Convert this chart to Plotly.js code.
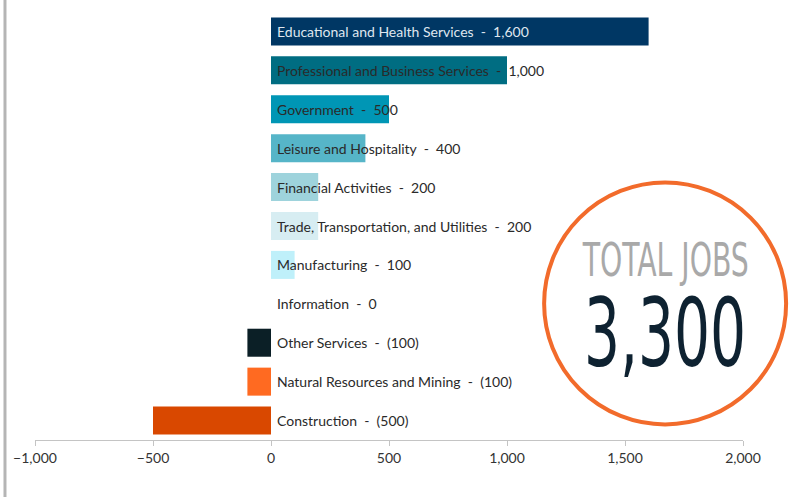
<!DOCTYPE html>
<html>
<head>
<meta charset="utf-8">
<script src="https://cdn.plot.ly/plotly-3.0.1.min.js"></script>
<style>
  html, body { margin: 0; padding: 0; background: #fff; }
  #chart { width: 810px; height: 497px; }
</style>
</head>
<body>
<div id="chart"></div>
<script>
// Job change by industry
const industries = [
  'Educational and Health Services',
  'Professional and Business Services',
  'Government',
  'Leisure and Hospitality',
  'Financial Activities',
  'Trade, Transportation, and Utilities',
  'Manufacturing',
  'Information',
  'Other Services',
  'Natural Resources and Mining',
  'Construction'
];
const jobChange = [1600, 1000, 500, 400, 200, 200, 100, 0, -100, -100, -500];
const barColors = [
  '#003764', '#006d82', '#0096b5', '#56b5c8', '#9ed3dc', '#d7edf2',
  '#bff0fa', '#ffffff', '#0b1f26', '#ff6a21', '#d94800'
];
const totalLabel = 'TOTAL JOBS';
const totalJobs = '3,300';

// "1,600" for gains, "(100)" for losses
const fmt = v => v < 0 ? '(' + Math.abs(v).toLocaleString('en-US') + ')' : v.toLocaleString('en-US');

const labelAnnotations = industries.map((name, i) => ({
  x: 0,
  y: name,
  xref: 'x',
  yref: 'y',
  text: name + '&nbsp;&nbsp;-&nbsp;&nbsp;' + fmt(jobChange[i]),
  showarrow: false,
  xanchor: 'left',
  xshift: 4,
  font: { family: 'Lato, "Open Sans", sans-serif', size: 14, color: i === 0 ? '#dfe6ef' : '#2a2a2a' }
}));

const trace = {
  type: 'bar',
  orientation: 'h',
  x: jobChange,
  y: industries,
  marker: { color: barColors },
  hoverinfo: 'x+y'
};

const bigFont = '"Liberation Sans Narrow", "DejaVu Sans Condensed", sans-serif';

const layout = {
  width: 810,
  height: 497,
  margin: { l: 35, r: 67, t: 12, b: 57 },
  paper_bgcolor: '#fff',
  plot_bgcolor: '#fff',
  showlegend: false,
  bargap: 0.28,
  xaxis: {
    range: [-1000, 2000],
    dtick: 500,
    tickformat: ',',
    showgrid: false,
    zeroline: false,
    showline: true,
    linecolor: '#c4c4c4',
    linewidth: 1,
    ticks: 'outside',
    ticklen: 5,
    tickcolor: '#c4c4c4',
    tickfont: { family: 'Lato, "Open Sans", sans-serif', size: 14, color: '#333' }
  },
  yaxis: {
    autorange: 'reversed',
    showticklabels: false,
    showgrid: false,
    zeroline: false,
    showline: false,
    ticks: ''
  },
  shapes: [
    // frame line on the left
    { type: 'line', xref: 'paper', yref: 'paper', x0: -0.0424, x1: -0.0424, y0: -0.14, y1: 1.04,
      line: { color: '#b5b5b5', width: 3 } },
    // total jobs ring
    { type: 'circle', xref: 'paper', yref: 'paper', xsizemode: 'pixel', ysizemode: 'pixel',
      xanchor: 0.89, yanchor: 0.319, x0: -121, x1: 121, y0: -121, y1: 121,
      line: { color: '#f26b2b', width: 4 }, fillcolor: 'rgba(255,255,255,0)' }
  ],
  annotations: labelAnnotations.concat([
    { xref: 'paper', yref: 'paper', x: 0.89, y: 0.421, xanchor: 'center', yanchor: 'middle',
      text: totalLabel, showarrow: false,
      font: { family: bigFont, size: 47, color: '#a9a9a9' } },
    { xref: 'paper', yref: 'paper', x: 0.89, y: 0.25, xanchor: 'center', yanchor: 'middle',
      text: totalJobs, showarrow: false,
      font: { family: bigFont, size: 94, color: '#0e2231' } }
  ])
};

Plotly.newPlot('chart', [trace], layout, { displayModeBar: false, staticPlot: true }).then(gd => {
  // squeeze the big total text horizontally, the original uses a very condensed face
  const n = industries.length;
  [n, n + 1].forEach(idx => {
    const t = gd.querySelector('.annotation[data-index="' + idx + '"] text.annotation-text');
    if (!t) return;
    const bb = t.getBBox();
    const cx = bb.x + bb.width / 2;
    t.setAttribute('transform', 'translate(' + cx + ',0) scale(0.67,1) translate(' + (-cx) + ',0)');
  });
});
</script>
</body>
</html>
